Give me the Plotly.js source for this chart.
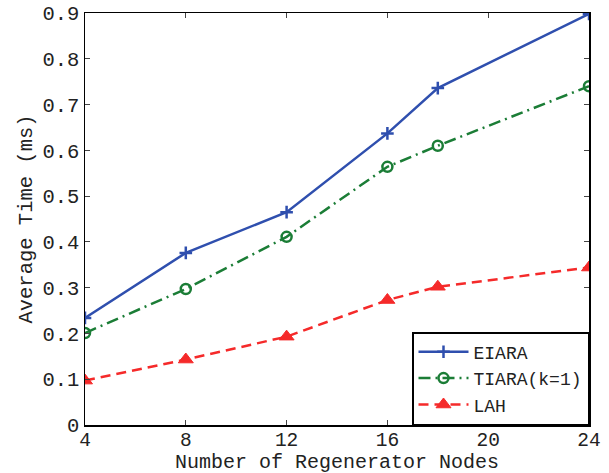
<!DOCTYPE html>
<html>
<head>
<meta charset="utf-8">
<script src="https://cdn.plot.ly/plotly-3.0.1.min.js"></script>
<style>html,body{margin:0;padding:0;background:#fff;}#chart{width:609px;height:473px;}</style>
</head>
<body>
<div id="chart"></div>
<script>
const nodes = [4, 8, 12, 16, 18, 24];
const eiara = [0.234, 0.376, 0.465, 0.637, 0.736, 0.898];
const tiara = [0.201, 0.297, 0.411, 0.564, 0.610, 0.740];
const lah = [0.097, 0.143, 0.193, 0.273, 0.302, 0.344];
const xTicks = [4, 8, 12, 16, 20, 24];
const yTicks = [0, 0.1, 0.2, 0.3, 0.4, 0.5, 0.6, 0.7, 0.8, 0.9];
const yTickText = ['0', '0.1', '0.2', '0.3', '0.4', '0.5', '0.6', '0.7', '0.8', '0.9'];
const xTitle = 'Number of Regenerator Nodes';
const yTitle = 'Average Time (ms)';

const fam = '"Liberation Mono", "Courier New", monospace';
const font = {family: fam, size: 20.5, color: '#222'};
const xTickFont = {family: fam, size: 19.5, color: '#222'};
const xTitleFont = {family: fam, size: 20, color: '#222'};
const legendFont = {family: fam, size: 18, color: '#222'};

const traces = [
  {x: nodes, y: eiara, name: 'EIARA', mode: 'lines+markers',
   line: {color: '#2f4fae', width: 2.5, dash: 'solid'},
   marker: {symbol: 'cross-thin', size: 9, line: {color: '#2f4fae', width: 2.5}, color: '#2f4fae'}},
  {x: nodes, y: tiara, name: 'TIARA(k=1)', mode: 'lines+markers',
   line: {color: '#1b7d36', width: 2.5, dash: '12px,5px,2px,5px'},
   marker: {symbol: 'circle-open', size: 10, line: {color: '#1b7d36', width: 2.5}, color: '#1b7d36'}},
  {x: nodes, y: lah, name: 'LAH', mode: 'lines+markers',
   line: {color: '#f52a2a', width: 2.5, dash: '10px,6px'},
   marker: {symbol: 'triangle-up', size: 13, color: '#f52a2a', line: {color: '#f52a2a', width: 1}}}
];

const layout = {
  width: 609, height: 473,
  margin: {l: 85, r: 20, t: 13, b: 48},
  paper_bgcolor: '#fff', plot_bgcolor: '#fff',
  font: font,
  showlegend: true,
  legend: {x: 1, y: 0, xanchor: 'right', yanchor: 'bottom', bgcolor: '#fff',
           bordercolor: '#000', borderwidth: 1.5, font: legendFont, tracegroupgap: 0,
           itemwidth: 50},
  xaxis: {range: [4, 24], tickvals: xTicks, ticks: 'inside', ticklen: 5,
          showline: true, linecolor: '#000', linewidth: 1.5, mirror: 'ticks',
          showgrid: false, zeroline: false, tickfont: xTickFont, ticklabelstandoff: -4},
  yaxis: {range: [0, 0.9], tickvals: yTicks, ticktext: yTickText, ticks: 'inside', ticklen: 5,
          showline: true, linecolor: '#000', linewidth: 1.5, mirror: 'ticks',
          showgrid: false, zeroline: false, tickfont: font,
          title: {text: yTitle, font: font, standoff: 4}},
  annotations: [{text: xTitle, xref: 'paper', yref: 'paper', x: 0.5, y: -0.09,
                 xanchor: 'center', yanchor: 'middle', showarrow: false, font: xTitleFont}]
};

Plotly.newPlot('chart', traces, layout, {displayModeBar: false, staticPlot: true});
</script>
</body>
</html>
